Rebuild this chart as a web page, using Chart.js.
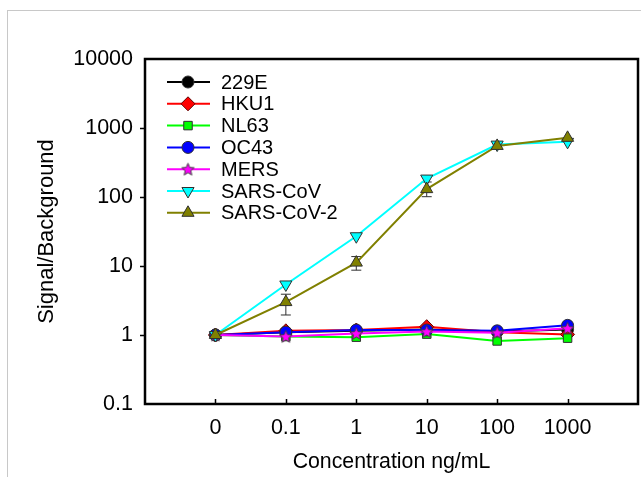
<!DOCTYPE html>
<html>
<head>
<meta charset="utf-8">
<script src="https://cdn.jsdelivr.net/npm/chart.js@4/dist/chart.umd.min.js"></script>
<style>
  html, body { margin: 0; padding: 0; background: #fff; }
  #wrap { position: relative; width: 641px; height: 477px; overflow: hidden; }
  #frame { position: absolute; left: 7px; top: 10px; width: 700px; height: 500px;
           border-left: 1px solid #c8c8c8; border-top: 1px solid #c8c8c8; }
  canvas { position: absolute; left: 0; top: 0; }
</style>
</head>
<body>
<div id="wrap">
  <div id="frame"></div>
  <canvas id="c" width="646" height="477"></canvas>
</div>
<script>
// ---- data ----
const concentrations = ['0', '0.1', '1', '10', '100', '1000'];
const yTickValues = [0.1, 1, 10, 100, 1000, 10000];
const seriesNames = ['229E', 'HKU1', 'NL63', 'OC43', 'MERS', 'SARS-CoV', 'SARS-CoV-2'];
const v229E     = [1.0, 1.10, 1.15, 1.20, 1.12, 1.20];
const vHKU1     = [1.0, 1.15, 1.18, 1.32, 1.10, 1.02];
const vNL63     = [1.0, 0.95, 0.93, 1.03, 0.82, 0.90];
const vOC43     = [1.0, 1.10, 1.18, 1.18, 1.15, 1.38];
const vMERS     = [1.0, 0.95, 1.05, 1.12, 1.08, 1.25];
const vSARSCoV  = [1.0, 5.4, 27, 185, 575, 630];
const vSARSCoV2 = [1.0, 3.0, 11.2, 130, 550, 720];
const errSARSCoV2Low  = [null, 1.95, 8.7, 101, null, null];
const errSARSCoV2High = [null, 3.9, 13.7, 165, null, null];

function makeStar(size, fill, stroke) {
  const c = document.createElement('canvas');
  c.width = size; c.height = size;
  const g = c.getContext('2d');
  const cx = size / 2, cy = size / 2 + 0.5, R = size / 2 - 1, r = R * 0.45;
  g.beginPath();
  for (let i = 0; i < 10; i++) {
    const rad = (i % 2 === 0) ? R : r;
    const a = -Math.PI / 2 + i * Math.PI / 5;
    const x = cx + rad * Math.cos(a), y = cy + rad * Math.sin(a);
    if (i === 0) g.moveTo(x, y); else g.lineTo(x, y);
  }
  g.closePath();
  g.fillStyle = fill; g.fill();
  g.lineWidth = 1; g.strokeStyle = stroke; g.stroke();
  return c;
}
const starImg = makeStar(15, '#ff00ff', '#404040');

function toPts(arr) { return arr.map((v, i) => ({ x: i, y: v })); }

const edge = '#303030';
const datasets = [
  { label: seriesNames[0], data: toPts(v229E), borderColor: '#000000', backgroundColor: '#000000',
    pointStyle: 'circle', pointRadius: 6, pointBorderColor: edge, order: 7 },
  { label: seriesNames[1], data: toPts(vHKU1), borderColor: '#ff0000', backgroundColor: '#ff0000',
    pointStyle: 'rectRot', pointRadius: 7, pointBorderColor: '#600000', order: 6 },
  { label: seriesNames[2], data: toPts(vNL63), borderColor: '#00ff00', backgroundColor: '#00ff00',
    pointStyle: 'rect', pointRadius: 6, pointBorderColor: edge, order: 5 },
  { label: seriesNames[3], data: toPts(vOC43), borderColor: '#0000ff', backgroundColor: '#0000ff',
    pointStyle: 'circle', pointRadius: 6, pointBorderColor: edge, order: 4 },
  { label: seriesNames[4], data: toPts(vMERS), borderColor: '#ff00ff', backgroundColor: '#ff00ff',
    pointStyle: starImg, pointRadius: 7, pointBorderColor: edge, order: 3 },
  { label: seriesNames[5], data: toPts(vSARSCoV), borderColor: '#00ffff', backgroundColor: '#00ffff',
    pointStyle: 'triangle', rotation: 180, pointRadius: 7, pointBorderColor: edge, order: 2 },
  { label: seriesNames[6], data: toPts(vSARSCoV2), borderColor: '#808000', backgroundColor: '#808000',
    pointStyle: 'triangle', pointRadius: 7, pointBorderColor: edge, order: 1,
    errLow: errSARSCoV2Low, errHigh: errSARSCoV2High },
];
datasets.forEach(d => { d.borderWidth = 2; d.pointBorderWidth = 1; d.tension = 0; });

const FONT = "'Liberation Sans', Arial, sans-serif";

const boxPlugin = {
  id: 'boxPlugin',
  beforeDatasetsDraw(chart) {
    const ctx = chart.ctx, y = chart.scales.y;
    ctx.save();
    ctx.strokeStyle = '#303030'; ctx.lineWidth = 1;
    chart.data.datasets.forEach((ds, di) => {
      if (!ds.errLow) return;
      const meta = chart.getDatasetMeta(di);
      meta.data.forEach((pt, i) => {
        if (ds.errLow[i] == null) return;
        const x = pt.x, yl = y.getPixelForValue(ds.errLow[i]), yh = y.getPixelForValue(ds.errHigh[i]);
        ctx.beginPath();
        ctx.moveTo(x, yl); ctx.lineTo(x, yh);
        ctx.moveTo(x - 5, yl); ctx.lineTo(x + 5, yl);
        ctx.moveTo(x - 5, yh); ctx.lineTo(x + 5, yh);
        ctx.stroke();
      });
    });
    ctx.restore();
  },
  afterDraw(chart) {
    const ctx = chart.ctx, a = chart.chartArea, xs = chart.scales.x, ys = chart.scales.y;
    ctx.save();
    ctx.strokeStyle = '#000'; ctx.lineWidth = 1.5;
    ctx.beginPath();
    concentrations.forEach((_, i) => {
      const px = Math.round(xs.getPixelForValue(i)) + 0.5;
      ctx.moveTo(px, a.bottom); ctx.lineTo(px, a.bottom - 5);
    });
    yTickValues.slice(1, -1).forEach(v => {
      const py = Math.round(ys.getPixelForValue(v)) + 0.5;
      ctx.moveTo(a.left, py); ctx.lineTo(a.left - 5, py);
    });
    ctx.stroke();
    ctx.lineWidth = 2.5;
    ctx.strokeRect(a.left, a.top, a.right - a.left, a.bottom - a.top);
    const lx0 = 167, lx1 = 210, mx = 188, tx = 221, ly0 = 82, dy = 21.8;
    ctx.font = '20px ' + FONT;
    ctx.textBaseline = 'middle';
    ctx.textAlign = 'left';
    chart.data.datasets.forEach((ds, i) => {
      const yy = ly0 + i * dy;
      ctx.strokeStyle = ds.borderColor; ctx.lineWidth = 2;
      ctx.beginPath(); ctx.moveTo(lx0, yy); ctx.lineTo(lx1, yy); ctx.stroke();
      ctx.fillStyle = ds.backgroundColor; ctx.strokeStyle = ds.pointBorderColor; ctx.lineWidth = 1;
      Chart.helpers.drawPoint(ctx, { pointStyle: ds.pointStyle, radius: ds.pointRadius,
        rotation: ds.rotation || 0, borderWidth: 1 }, mx, yy);
      ctx.fillStyle = '#000';
      ctx.fillText(ds.label, tx, yy + 1);
    });
    ctx.restore();
  }
};

const chart = new Chart(document.getElementById('c'), {
  type: 'line',
  data: { datasets },
  options: {
    responsive: false,
    animation: false,
    layout: { padding: { left: 0, top: 59, right: 0, bottom: 0 } },
    plugins: { legend: { display: false }, tooltip: { enabled: false } },
    scales: {
      x: {
        type: 'linear', min: -1, max: 6,
        grid: { display: false, drawTicks: false }, border: { display: false },
        afterBuildTicks: s => { s.ticks = concentrations.map((_, i) => ({ value: i })); },
        afterFit: s => { s.height = 73; s.paddingLeft = 0; s.paddingRight = 0; },
        ticks: { padding: 11, color: '#000', font: { size: 21.5, family: FONT },
                 callback: v => concentrations[v] },
        title: { display: true, text: 'Concentration ng/mL', color: '#000',
                 font: { size: 21.3, family: FONT }, padding: { top: 0, bottom: 2 } }
      },
      y: {
        type: 'logarithmic', min: 0.1, max: 10000,
        grid: { display: false, drawTicks: false }, border: { display: false },
        afterBuildTicks: s => { s.ticks = yTickValues.map(v => ({ value: v })); },
        afterFit: s => { s.width = 145; s.paddingTop = 0; s.paddingBottom = 0; },
        ticks: { padding: 12, color: '#000', font: { size: 21.5, family: FONT },
                 callback: v => String(v) },
        title: { display: true, text: 'Signal/Background', color: '#000',
                 font: { size: 22, family: FONT }, padding: { top: 34, bottom: 0 } }
      }
    }
  },
  plugins: [boxPlugin]
});
</script>
</body>
</html>
